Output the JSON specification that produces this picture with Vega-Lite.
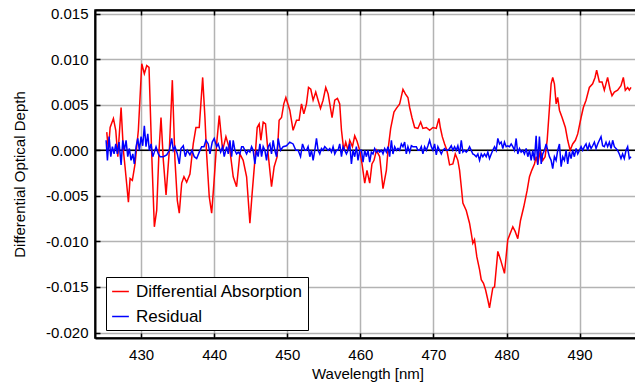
{
 "$schema": "https://vega.github.io/schema/vega-lite/v6.json",
 "width": 545, "height": 328,
 "autosize": "none",
 "padding": {"left": 95, "top": 10, "right": 0, "bottom": 51},
 "datasets": {
  "absorption": [
{"w":425.31,"v":0.0020},{"w":425.53,"v":0},{"w":425.77,"v":0.0025},{"w":426.22,"v":0.0035},{"w":426.54,"v":0.0022},{"w":426.82,"v":-0.0007},{"w":427.27,"v":0.0047},{"w":427.58,"v":0},{"w":427.81,"v":-0.0018},{"w":428.27,"v":-0.0057},{"w":428.50,"v":-0.0031},{"w":428.81,"v":-0.0033},{"w":429.18,"v":-0.0015},{"w":429.63,"v":0.0022},{"w":430.10,"v":0.0095},{"w":430.45,"v":0.0084},{"w":430.78,"v":0.0093},{"w":431.09,"v":0.0091},{"w":431.46,"v":-0.0004},{"w":431.82,"v":-0.0084},{"w":432.14,"v":-0.0066},{"w":432.46,"v":0},{"w":432.73,"v":0.0036},{"w":433.05,"v":-0.0011},{"w":433.42,"v":-0.0049},{"w":433.87,"v":0},{"w":434.28,"v":0.0077},{"w":434.64,"v":-0.0011},{"w":434.96,"v":-0.0055},{"w":435.23,"v":-0.0069},{"w":435.56,"v":-0.0036},{"w":435.87,"v":-0.0029},{"w":436.24,"v":-0.0035},{"w":436.69,"v":-0.0026},{"w":437.14,"v":0.0007},{"w":437.51,"v":0.0025},{"w":437.96,"v":0.0025},{"w":438.43,"v":0.0080},{"w":438.74,"v":0.0036},{"w":438.97,"v":-0.0004},{"w":439.33,"v":-0.0051},{"w":439.66,"v":-0.0069},{"w":439.97,"v":-0.0036},{"w":440.34,"v":0.0007},{"w":440.70,"v":0.0038},{"w":441.16,"v":0},{"w":441.61,"v":0.0015},{"w":442.16,"v":0},{"w":442.61,"v":-0.0029},{"w":443.07,"v":-0.0040},{"w":443.52,"v":-0.0004},{"w":443.97,"v":-0.0011},{"w":444.44,"v":-0.0029},{"w":444.89,"v":-0.0080},{"w":445.20,"v":-0.0047},{"w":445.57,"v":-0.0011},{"w":445.89,"v":0.0025},{"w":446.16,"v":0.0029},{"w":446.39,"v":0.0011},{"w":446.71,"v":0.0031},{"w":447.03,"v":0.0029},{"w":447.39,"v":-0.0004},{"w":447.85,"v":-0.0040},{"w":448.21,"v":-0.0018},{"w":448.62,"v":-0.0007},{"w":448.89,"v":0.0033},{"w":449.22,"v":0.0036},{"w":449.53,"v":0.0051},{"w":449.81,"v":0.0058},{"w":450.35,"v":0.0044},{"w":450.80,"v":0.0022},{"w":451.27,"v":0.0033},{"w":451.62,"v":0.0033},{"w":451.95,"v":0.0051},{"w":452.27,"v":0.0040},{"w":452.63,"v":0.0051},{"w":452.91,"v":0.0069},{"w":453.22,"v":0.0067},{"w":453.54,"v":0.0055},{"w":453.90,"v":0.0064},{"w":454.22,"v":0.0055},{"w":454.55,"v":0.0046},{"w":454.90,"v":0.0055},{"w":455.27,"v":0.0069},{"w":455.59,"v":0.0062},{"w":455.82,"v":0.0051},{"w":456.13,"v":0.0036},{"w":456.50,"v":0.0055},{"w":456.87,"v":0.0057},{"w":457.18,"v":0.0051},{"w":457.42,"v":0.0022},{"w":457.73,"v":0},{"w":458.00,"v":0.0009},{"w":458.32,"v":0},{"w":458.55,"v":0.0011},{"w":458.92,"v":0.0004},{"w":459.23,"v":0.0016},{"w":459.55,"v":0.0010},{"w":459.92,"v":0},{"w":460.23,"v":-0.0015},{"w":460.60,"v":-0.0036},{"w":460.91,"v":-0.0022},{"w":461.28,"v":-0.0036},{"w":461.59,"v":-0.0015},{"w":461.87,"v":-0.0011},{"w":462.20,"v":0},{"w":462.65,"v":-0.0007},{"w":463.10,"v":-0.0042},{"w":463.56,"v":-0.0022},{"w":463.78,"v":0},{"w":464.15,"v":0.0024},{"w":464.60,"v":0.0042},{"w":464.93,"v":0.0046},{"w":465.38,"v":0.0051},{"w":465.83,"v":0.0067},{"w":466.16,"v":0.0062},{"w":466.51,"v":0.0058},{"w":466.75,"v":0.0047},{"w":467.06,"v":0.0036},{"w":467.43,"v":0.0025},{"w":467.88,"v":0.0024},{"w":468.25,"v":0.0031},{"w":468.56,"v":0.0024},{"w":469.03,"v":0.0025},{"w":469.48,"v":0.0022},{"w":469.93,"v":0.0025},{"w":470.39,"v":0.0024},{"w":470.75,"v":0.0035},{"w":470.94,"v":0.0025},{"w":471.21,"v":0.0015},{"w":471.53,"v":0.0007},{"w":471.84,"v":0},{"w":472.21,"v":-0.0016},{"w":472.66,"v":-0.0015},{"w":472.99,"v":-0.0004},{"w":473.34,"v":-0.0011},{"w":473.58,"v":-0.0022},{"w":473.81,"v":-0.0040},{"w":474.03,"v":-0.0058},{"w":474.49,"v":-0.0066},{"w":474.94,"v":-0.0080},{"w":475.17,"v":-0.0091},{"w":475.39,"v":-0.0102},{"w":475.62,"v":-0.0098},{"w":475.94,"v":-0.0117},{"w":476.31,"v":-0.0131},{"w":476.54,"v":-0.0142},{"w":476.85,"v":-0.0146},{"w":477.13,"v":-0.0153},{"w":477.44,"v":-0.0164},{"w":477.67,"v":-0.0173},{"w":478.12,"v":-0.0151},{"w":478.36,"v":-0.0150},{"w":478.81,"v":-0.0111},{"w":479.18,"v":-0.0120},{"w":479.72,"v":-0.0135},{"w":480.17,"v":-0.0098},{"w":480.86,"v":-0.0084},{"w":481.18,"v":-0.0089},{"w":481.54,"v":-0.0097},{"w":481.91,"v":-0.0077},{"w":482.36,"v":-0.0062},{"w":482.82,"v":-0.0044},{"w":483.14,"v":-0.0029},{"w":483.45,"v":-0.0022},{"w":483.82,"v":-0.0015},{"w":484.05,"v":-0.0007},{"w":484.27,"v":-0.0015},{"w":484.64,"v":0},{"w":484.96,"v":-0.0011},{"w":485.28,"v":-0.0007},{"w":485.56,"v":0.0011},{"w":485.78,"v":0.0036},{"w":486.10,"v":0.0073},{"w":486.32,"v":0.0080},{"w":486.55,"v":0.0073},{"w":486.79,"v":0.0051},{"w":487.00,"v":0.0058},{"w":487.24,"v":0.0044},{"w":487.60,"v":0.0036},{"w":488.05,"v":0.0025},{"w":488.37,"v":0.0011},{"w":488.70,"v":0},{"w":489.05,"v":0.0007},{"w":489.42,"v":0.0011},{"w":489.74,"v":0.0018},{"w":490.20,"v":0.0036},{"w":490.51,"v":0.0047},{"w":490.88,"v":0.0055},{"w":491.33,"v":0.0069},{"w":491.78,"v":0.0073},{"w":492.11,"v":0.0080},{"w":492.33,"v":0.0088},{"w":492.70,"v":0.0075},{"w":493.07,"v":0.0075},{"w":493.38,"v":0.0066},{"w":493.83,"v":0.0080},{"w":494.16,"v":0.0067},{"w":494.43,"v":0.0060},{"w":494.75,"v":0.0064},{"w":495.20,"v":0.0066},{"w":495.66,"v":0.0071},{"w":495.98,"v":0.0080},{"w":496.25,"v":0.0066},{"w":496.57,"v":0.0069},{"w":496.80,"v":0.0066},{"w":497.03,"v":0.0069}
  ],
  "residual": [
{"w":425.22,"v":0.0011},{"w":425.40,"v":-0.0011},{"w":425.63,"v":0.0015},{"w":425.86,"v":-0.0007},{"w":426.08,"v":0.0004},{"w":426.31,"v":-0.0004},{"w":426.54,"v":0.0007},{"w":426.76,"v":-0.0004},{"w":426.99,"v":0.0009},{"w":427.27,"v":-0.0016},{"w":427.50,"v":0.0011},{"w":427.72,"v":0},{"w":427.95,"v":0.0011},{"w":428.18,"v":-0.0007},{"w":428.40,"v":0.0002},{"w":428.63,"v":-0.0011},{"w":428.87,"v":-0.0004},{"w":429.08,"v":-0.0015},{"w":429.32,"v":0.0004},{"w":429.55,"v":0.0013},{"w":429.77,"v":0},{"w":430.00,"v":0.0015},{"w":430.23,"v":0.0005},{"w":430.45,"v":0.0027},{"w":430.68,"v":0.0004},{"w":430.92,"v":0.0018},{"w":431.13,"v":0},{"w":431.37,"v":0.0007},{"w":431.60,"v":-0.0007},{"w":431.82,"v":-0.0002},{"w":432.05,"v":0.0004},{"w":432.36,"v":-0.0004},{"w":432.60,"v":-0.0007},{"w":433.05,"v":-0.0007},{"w":433.51,"v":-0.0005},{"w":433.87,"v":0},{"w":434.19,"v":0.0013},{"w":434.41,"v":0},{"w":434.64,"v":0.0004},{"w":434.96,"v":-0.0004},{"w":435.23,"v":-0.0015},{"w":435.46,"v":0.0002},{"w":435.78,"v":0.0005},{"w":436.05,"v":-0.0007},{"w":436.32,"v":0},{"w":436.69,"v":-0.0005},{"w":436.97,"v":0},{"w":437.28,"v":-0.0007},{"w":437.61,"v":-0.0009},{"w":437.96,"v":-0.0002},{"w":438.29,"v":0.0004},{"w":438.61,"v":0.0004},{"w":438.88,"v":0.0011},{"w":439.19,"v":0.0007},{"w":439.43,"v":-0.0004},{"w":439.74,"v":0.0009},{"w":440.01,"v":0.0013},{"w":440.34,"v":0.0004},{"w":440.56,"v":0.0007},{"w":440.89,"v":-0.0002},{"w":441.16,"v":0.0004},{"w":441.38,"v":-0.0007},{"w":441.71,"v":0.0004},{"w":441.93,"v":-0.0004},{"w":442.16,"v":0.0011},{"w":442.39,"v":-0.0007},{"w":442.61,"v":0.0011},{"w":442.84,"v":0},{"w":443.07,"v":-0.0004},{"w":443.29,"v":-0.0002},{"w":443.52,"v":-0.0004},{"w":443.76,"v":0.0004},{"w":443.97,"v":0.0004},{"w":444.21,"v":0},{"w":444.44,"v":-0.0004},{"w":444.66,"v":0},{"w":444.89,"v":-0.0002},{"w":445.12,"v":0.0004},{"w":445.34,"v":0},{"w":445.57,"v":-0.0015},{"w":445.80,"v":0},{"w":446.02,"v":-0.0007},{"w":446.26,"v":0.0007},{"w":446.49,"v":-0.0007},{"w":446.71,"v":0.0004},{"w":446.94,"v":0},{"w":447.17,"v":-0.0011},{"w":447.39,"v":0.0004},{"w":447.62,"v":0.0007},{"w":447.85,"v":-0.0004},{"w":448.07,"v":0.0011},{"w":448.30,"v":0},{"w":448.54,"v":-0.0007},{"w":448.76,"v":0.0013},{"w":449.08,"v":0},{"w":449.44,"v":0.0004},{"w":449.90,"v":0.0005},{"w":450.35,"v":0.0009},{"w":450.80,"v":0.0007},{"w":451.17,"v":0},{"w":451.49,"v":0},{"w":451.82,"v":-0.0007},{"w":452.09,"v":0.0007},{"w":452.40,"v":0},{"w":452.63,"v":0},{"w":452.85,"v":0.0004},{"w":453.09,"v":-0.0007},{"w":453.32,"v":0},{"w":453.54,"v":-0.0011},{"w":453.77,"v":0},{"w":454.00,"v":0.0013},{"w":454.22,"v":0},{"w":454.45,"v":-0.0004},{"w":454.68,"v":0.0002},{"w":454.90,"v":0},{"w":455.13,"v":0.0004},{"w":455.37,"v":0.0002},{"w":455.59,"v":0},{"w":455.82,"v":0.0002},{"w":456.05,"v":-0.0002},{"w":456.27,"v":0.0004},{"w":456.50,"v":-0.0004},{"w":456.73,"v":0},{"w":456.95,"v":0},{"w":457.18,"v":0.0007},{"w":457.42,"v":-0.0007},{"w":457.63,"v":0.0004},{"w":457.87,"v":0},{"w":458.10,"v":-0.0004},{"w":458.32,"v":0},{"w":458.55,"v":0.0007},{"w":458.78,"v":-0.0015},{"w":459.00,"v":0},{"w":459.23,"v":-0.0007},{"w":459.46,"v":0.0004},{"w":459.68,"v":-0.0011},{"w":459.92,"v":0},{"w":460.15,"v":0},{"w":460.37,"v":-0.0013},{"w":460.60,"v":0},{"w":460.83,"v":-0.0007},{"w":461.05,"v":0},{"w":461.28,"v":-0.0013},{"w":461.51,"v":-0.0002},{"w":461.73,"v":-0.0004},{"w":461.96,"v":0.0002},{"w":462.20,"v":-0.0002},{"w":462.42,"v":0},{"w":462.65,"v":-0.0002},{"w":462.88,"v":0},{"w":463.10,"v":-0.0004},{"w":463.33,"v":0.0002},{"w":463.56,"v":-0.0002},{"w":463.78,"v":0.0004},{"w":464.01,"v":-0.0007},{"w":464.25,"v":0.0011},{"w":464.46,"v":-0.0004},{"w":464.70,"v":0.0004},{"w":464.93,"v":0},{"w":465.15,"v":0.0002},{"w":465.38,"v":0},{"w":465.61,"v":0.0007},{"w":465.83,"v":0.0004},{"w":466.06,"v":0.0009},{"w":466.29,"v":-0.0004},{"w":466.51,"v":0.0004},{"w":466.75,"v":-0.0002},{"w":466.98,"v":0.0005},{"w":467.20,"v":0.0004},{"w":467.43,"v":0.0004},{"w":467.66,"v":0.0004},{"w":467.88,"v":0},{"w":468.11,"v":0},{"w":468.34,"v":0.0004},{"w":468.56,"v":-0.0004},{"w":468.79,"v":0.0004},{"w":469.03,"v":0},{"w":469.25,"v":0.0005},{"w":469.48,"v":0.0011},{"w":469.71,"v":0.0004},{"w":469.93,"v":0},{"w":470.16,"v":0.0007},{"w":470.39,"v":-0.0005},{"w":470.61,"v":0.0004},{"w":470.84,"v":0},{"w":471.08,"v":-0.0004},{"w":471.29,"v":0},{"w":471.53,"v":0.0002},{"w":471.76,"v":0},{"w":471.98,"v":0},{"w":472.21,"v":0.0002},{"w":472.44,"v":0.0005},{"w":472.66,"v":0},{"w":472.89,"v":0.0004},{"w":473.12,"v":0},{"w":473.34,"v":0.0005},{"w":473.58,"v":-0.0004},{"w":473.81,"v":0.0011},{"w":474.03,"v":-0.0002},{"w":474.26,"v":0},{"w":474.49,"v":-0.0002},{"w":474.71,"v":0},{"w":474.94,"v":0.0004},{"w":475.17,"v":0},{"w":475.39,"v":-0.0004},{"w":475.62,"v":-0.0005},{"w":475.86,"v":-0.0007},{"w":476.08,"v":-0.0004},{"w":476.31,"v":-0.0011},{"w":476.54,"v":-0.0004},{"w":476.76,"v":-0.0007},{"w":476.99,"v":-0.0004},{"w":477.22,"v":-0.0007},{"w":477.44,"v":-0.0002},{"w":477.67,"v":-0.0009},{"w":477.91,"v":-0.0004},{"w":478.12,"v":0},{"w":478.36,"v":0.0004},{"w":478.59,"v":0},{"w":478.81,"v":0.0013},{"w":479.04,"v":0.0007},{"w":479.27,"v":0.0009},{"w":479.49,"v":0.0002},{"w":479.72,"v":0.0009},{"w":479.95,"v":0.0004},{"w":480.17,"v":0.0005},{"w":480.41,"v":0.0004},{"w":480.64,"v":0.0007},{"w":480.86,"v":0.0004},{"w":481.09,"v":0},{"w":481.32,"v":0.0013},{"w":481.54,"v":-0.0004},{"w":481.77,"v":0.0002},{"w":482.00,"v":-0.0002},{"w":482.22,"v":0},{"w":482.45,"v":-0.0004},{"w":482.69,"v":0.0002},{"w":482.91,"v":-0.0007},{"w":483.14,"v":0},{"w":483.37,"v":-0.0011},{"w":483.59,"v":0},{"w":483.82,"v":-0.0011},{"w":484.05,"v":0.0016},{"w":484.27,"v":-0.0016},{"w":484.50,"v":0.0015},{"w":484.74,"v":-0.0015},{"w":484.95,"v":-0.0004},{"w":485.19,"v":0},{"w":485.42,"v":0.0007},{"w":485.64,"v":0},{"w":485.87,"v":-0.0007},{"w":486.10,"v":-0.0011},{"w":486.32,"v":-0.0020},{"w":486.55,"v":-0.0007},{"w":486.78,"v":-0.0011},{"w":487.00,"v":0},{"w":487.24,"v":0.0007},{"w":487.47,"v":-0.0018},{"w":487.69,"v":-0.0007},{"w":487.92,"v":-0.0011},{"w":488.15,"v":0},{"w":488.37,"v":-0.0015},{"w":488.60,"v":-0.0002},{"w":488.83,"v":-0.0009},{"w":489.05,"v":0},{"w":489.28,"v":-0.0007},{"w":489.52,"v":0.0002},{"w":489.74,"v":-0.0004},{"w":489.97,"v":0},{"w":490.20,"v":0.0004},{"w":490.42,"v":0},{"w":490.65,"v":0.0004},{"w":490.88,"v":0.0007},{"w":491.10,"v":0},{"w":491.33,"v":0.0007},{"w":491.57,"v":0.0002},{"w":491.78,"v":0.0005},{"w":492.02,"v":0.0009},{"w":492.25,"v":0.0002},{"w":492.47,"v":0.0007},{"w":492.70,"v":0.0011},{"w":492.93,"v":0.0015},{"w":493.15,"v":0.0005},{"w":493.38,"v":0.0004},{"w":493.61,"v":0.0009},{"w":493.83,"v":0.0004},{"w":494.07,"v":0.0009},{"w":494.30,"v":0.0002},{"w":494.52,"v":0.0011},{"w":494.75,"v":0.0004},{"w":494.98,"v":0.0002},{"w":495.20,"v":0},{"w":495.43,"v":-0.0004},{"w":495.66,"v":-0.0009},{"w":495.88,"v":-0.0004},{"w":496.11,"v":-0.0009},{"w":496.35,"v":0},{"w":496.57,"v":0.0004},{"w":496.80,"v":-0.0009},{"w":497.03,"v":-0.0007}
  ]
 },
 "layer": [
  {
   "layer": [
    {
     "data": {"values": [{}]},
     "mark": {"type": "rule", "color": "black", "strokeWidth": 1.5},
     "encoding": {
      "y": {"datum": 0, "type": "quantitative", "scale": {"domain": [-0.0206, 0.0154], "nice": false, "zero": false}}
     }
    },
    {
     "data": {"name": "absorption"},
     "mark": {"type": "line", "strokeWidth": 1.5, "clip": true},
     "encoding": {
      "x": {"field": "w", "type": "quantitative", "scale": {"domain": [423.7, 498.26], "nice": false, "zero": false},
            "axis": {"orient": "bottom", "grid": true, "values": [430, 440, 450, 460, 470, 480, 490], "title": "Wavelength [nm]", "labelPadding": 14, "titlePadding": 4}},
      "y": {"field": "v", "type": "quantitative", "scale": {"domain": [-0.0206, 0.0154], "nice": false, "zero": false},
            "axis": {"orient": "left", "grid": true, "values": [-0.02, -0.015, -0.01, -0.005, 0, 0.005, 0.01, 0.015], "labelExpr": "replace(format(datum.value, '.3f'), '\u2212', '-')", "title": "Differential Optical Depth", "labelPadding": 12, "titlePadding": 18}},
      "color": {"datum": "Differential Absorption", "type": "nominal",
                "scale": {"domain": ["Differential Absorption", "Residual"], "range": ["#ff0000", "#0000ff"]},
                "legend": {"orient": "none", "legendX": 11, "legendY": 267, "title": null}}
     }
    },
    {
     "data": {"name": "residual"},
     "mark": {"type": "line", "strokeWidth": 1.5, "clip": true},
     "encoding": {
      "x": {"field": "w", "type": "quantitative"},
      "y": {"field": "v", "type": "quantitative"},
      "color": {"datum": "Residual", "type": "nominal"}
     }
    }
   ]
  },
  {
   "data": {"name": "residual"},
   "mark": {"type": "point", "opacity": 0},
   "encoding": {
    "x": {"field": "w", "type": "quantitative", "axis": {"orient": "top", "values": [430, 440, 450, 460, 470, 480, 490], "labels": false, "title": null, "grid": false}},
    "y": {"field": "v", "type": "quantitative", "axis": {"orient": "right", "values": [-0.02, -0.015, -0.01, -0.005, 0, 0.005, 0.01, 0.015], "labels": false, "title": null, "grid": false}}
   }
  }
 ],
 "resolve": {"axis": {"x": "independent", "y": "independent"}},
 "config": {
  "font": "Liberation Sans",
  "view": {"stroke": "black", "strokeWidth": 1.5},
  "axis": {"gridColor": "#b3b3b3", "gridWidth": 1.5, "gridOpacity": 1, "domain": true, "domainColor": "black", "domainWidth": 2, "tickColor": "black", "tickWidth": 1.5, "tickSize": -5,
           "labelFont": "Liberation Sans", "labelFontSize": 15, "labelColor": "black", "titleFont": "Liberation Sans", "titleFontSize": 15, "titleFontWeight": "normal", "titleColor": "black"},
  "legend": {"padding": 5, "fillColor": "white", "strokeColor": "black", "strokeWidth": 1, "labelFont": "Liberation Sans", "labelFontSize": 17, "labelColor": "black", "labelLimit": 400,
             "symbolSize": 280, "symbolStrokeWidth": 1.5, "rowPadding": 7, "labelOffset": 6, "cornerRadius": 0}
 }
}
